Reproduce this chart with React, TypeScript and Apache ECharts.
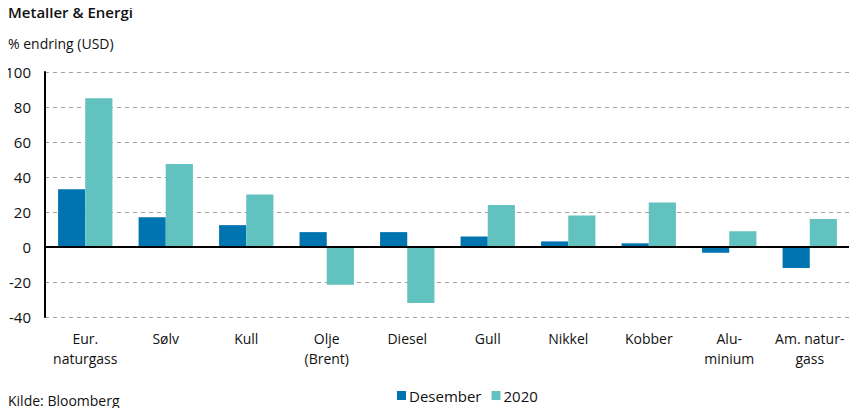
import React, { useEffect, useRef } from "react";
import * as echarts from "echarts";

const categories = [
  "Eur.\nnaturgass",
  "Sølv",
  "Kull",
  "Olje\n(Brent)",
  "Diesel",
  "Gull",
  "Nikkel",
  "Kobber",
  "Alu-\nminium",
  "Am. natur-\ngass",
];
const desember = [33, 17, 12.5, 8.5, 8.5, 6, 3.2, 2.1, -3.3, -12];
const aar2020 = [85, 47.5, 30, -21.5, -32, 24, 18, 25.5, 9, 16];
const seriesNames = ["Desember", "2020"];

const FONT = "'Open Sans', Roboto, sans-serif";

export default function App() {
  const ref = useRef<HTMLDivElement>(null);
  useEffect(() => {
    if (!ref.current) return;
    const chart = echarts.init(ref.current, undefined, { renderer: "svg" });
    chart.setOption({
      animation: false,
      backgroundColor: "#ffffff",
      textStyle: { fontFamily: FONT, color: "#111" },
      title: [
        {
          text: "Metaller & Energi",
          left: 3,
          top: -1,
          textStyle: { fontSize: 15, fontWeight: 600, color: "#111", fontFamily: FONT },
        },
        {
          text: "% endring (USD)",
          left: 3,
          top: 31,
          textStyle: { fontSize: 14, fontWeight: "normal", color: "#111", fontFamily: FONT },
        },
        {
          text: "Kilde: Bloomberg",
          left: 3,
          top: 388,
          textStyle: { fontSize: 14, fontWeight: "normal", color: "#111", fontFamily: FONT },
        },
      ],
      legend: {
        left: 392,
        top: 383,
        itemWidth: 9,
        itemHeight: 9,
        itemGap: 10,
        icon: "rect",
        textStyle: { fontSize: 15, color: "#111", fontFamily: FONT, padding: [0, 0, 0, -2] },
        data: seriesNames,
      },
      grid: { left: 45, right: 7, top: 72, bottom: 99, containLabel: false },
      xAxis: {
        type: "category",
        data: categories,
        axisLine: { show: false, onZero: false },
        axisTick: { show: false },
        axisLabel: {
          interval: 0,
          fontSize: 14,
          lineHeight: 20,
          color: "#111",
          margin: 11,
          fontFamily: FONT,
        },
      },
      yAxis: {
        type: "value",
        min: -40,
        max: 100,
        interval: 20,
        axisLine: { show: true, lineStyle: { color: "#000", width: 2 } },
        axisTick: { show: false },
        axisLabel: { fontSize: 15, color: "#111", margin: 14, fontFamily: FONT },
        splitLine: { show: true, lineStyle: { color: "#a59d9b", type: [4, 4], width: 1 } },
      },
      series: [
        {
          name: seriesNames[0],
          type: "bar",
          data: desember,
          itemStyle: { color: "#0074b1" },
          barGap: "0%",
          barCategoryGap: "32.5%",
          markLine: {
            silent: true,
            symbol: "none",
            label: { show: false },
            lineStyle: { color: "#000", width: 2, type: "solid" },
            data: [{ yAxis: 0 }],
          },
        },
        {
          name: seriesNames[1],
          type: "bar",
          data: aar2020,
          itemStyle: { color: "#62c2bf" },
          barGap: "0%",
          barCategoryGap: "32.5%",
        },
      ],
    });
    return () => chart.dispose();
  }, []);
  return <div ref={ref} style={{ width: 857, height: 416, margin: -8 }} />;
}
